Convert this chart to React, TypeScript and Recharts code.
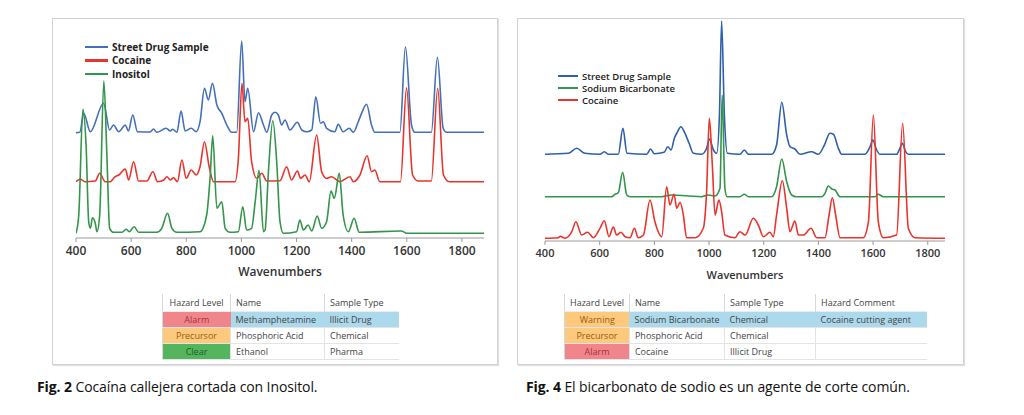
import React from 'react';
import { LineChart, Line, XAxis, YAxis, Legend, Label } from 'recharts';

type Pt = [number, number];

// ---------- Fig. 2 (left) ----------
const fig2Ticks = [400, 600, 800, 1000, 1200, 1400, 1600, 1800];
const fig2Street: Pt[] = [[400,105.3],[414,105.8],[428,124.7],[452,106.3],[500,134.7],[522,108],[536,113],[555,106.3],[579,113],[590,107],[606,123],[623,106.3],[669,106],[681,109],[693,105.7],[727,109.7],[742,107],[751,108.7],[766,105.7],[781,127],[796,107],[818,109.7],[836,106.3],[850,116.3],[866,149.7],[880,138],[895,154.7],[911,133],[929,124.7],[947,113],[965,105.7],[983,105.7],[1001,197],[1013,136.3],[1023,149.7],[1044,106.3],[1062,125.3],[1080,113],[1092,105.7],[1110,123],[1122,125.7],[1134,123],[1146,113],[1158,118],[1176,108],[1203,115.7],[1219,108],[1237,106.3],[1255,108],[1270,141.3],[1287,114.7],[1297,116.3],[1309,109.7],[1339,106.3],[1351,113.7],[1369,106.3],[1391,109.7],[1406,105.7],[1424,116.3],[1436,124.7],[1454,133.7],[1472,113],[1484,105.7],[1575,105.7],[1595,191.3],[1617,113],[1629,105.7],[1689,105.7],[1711,180.7],[1732,109.7],[1744,105.7],[1880,105.7]];
const fig2Cocaine: Pt[] = [[400,56.3],[416,58.7],[432,56.3],[470,57],[486,64.7],[506,56.3],[524,56.3],[542,61.3],[555,63],[579,69],[591,58],[609,76.3],[627,57],[657,57],[679,66.3],[696,56.3],[718,58],[730,61.3],[742,58],[754,60.3],[768,56.3],[784,78],[800,59.7],[818,68],[836,63],[850,71.3],[866,96.3],[883,71.3],[899,56.3],[977,56.3],[989,79.7],[1002,154.7],[1013,116.3],[1023,119.7],[1037,76.3],[1056,59.7],[1074,64.7],[1092,57],[1140,57.3],[1164,71.3],[1182,58],[1203,67],[1215,59.7],[1231,63],[1246,56.3],[1273,103],[1291,66.3],[1309,59.7],[1327,61.3],[1357,56.3],[1394,61.3],[1406,56.3],[1430,63],[1456,82.3],[1472,66.3],[1484,68],[1502,56.3],[1577,56.3],[1599,150.3],[1621,63],[1641,57],[1689,57],[1712,149.7],[1733,63],[1754,56.3],[1880,56.3]];
const fig2Inositol: Pt[] = [[400,4.7],[410,23],[425,128.7],[437,89.7],[446,16.3],[452,9.7],[460,20.3],[470,14.7],[476,6.3],[486,23],[501,157],[512,83],[522,9.7],[536,5.7],[567,5.7],[582,8.7],[593,6.3],[611,11.3],[627,5.7],[693,5.7],[711,9.7],[732,24.7],[748,9.7],[766,5.7],[850,6.3],[874,23],[887,63],[896,102.3],[911,29.7],[929,36.3],[941,9.7],[959,5.7],[989,6.3],[1005,31.3],[1019,8],[1037,9.7],[1050,36.3],[1064,67.7],[1080,6.3],[1086,8],[1098,66.3],[1114,117.3],[1128,76.3],[1140,16.3],[1152,4.7],[1200,6.3],[1212,18],[1225,8],[1242,13],[1255,7],[1275,22],[1291,9.7],[1309,16.3],[1325,47],[1337,39.7],[1355,64.7],[1369,23],[1388,6.3],[1409,19.7],[1427,5.7],[1580,7],[1600,4.7],[1880,4.7]];
const fig2Headers = ['Hazard Level', 'Name', 'Sample Type'];
const fig2Rows = [
  ['Alarm', 'Methamphetamine', 'Illicit Drug'],
  ['Precursor', 'Phosphoric Acid', 'Chemical'],
  ['Clear', 'Ethanol', 'Pharma'],
];
const fig2Caption = ['Fig. 2', ' Cocaína callejera cortada con Inositol.'];

// ---------- Fig. 4 (right) ----------
const fig4Ticks = [400, 600, 800, 1000, 1200, 1400, 1600, 1800];
const fig4Street: Pt[] = [[400,86.7],[485,87.7],[516,92.7],[546,87.7],[601,86.7],[617,89.3],[632,86.7],[668,86.7],[685,112.7],[700,87.7],[772,86.7],[786,92],[800,87.3],[836,88.7],[849,94.3],[861,91],[873,102.7],[885,109.3],[897,114.3],[912,107.7],[927,97.7],[943,87.7],[973,86.7],[991,92.7],[1001,102],[1016,91],[1028,87.7],[1038,126],[1046,220],[1056,126],[1067,87.7],[1113,86.7],[1129,91],[1144,86.7],[1229,86.7],[1247,96],[1266,138.7],[1284,106],[1296,94.3],[1314,92],[1333,86.7],[1375,89.3],[1400,86.7],[1422,96],[1442,107.7],[1455,106.7],[1473,92.7],[1485,86.7],[1570,86.7],[1589,94.3],[1599,101],[1613,91],[1626,86.7],[1686,86.7],[1698,92.7],[1707,97.7],[1719,89.3],[1729,86.7],[1863,86.7]];
const fig4Bicarb: Pt[] = [[400,44.3],[644,44.3],[656,46.7],[668,48.3],[684,68.7],[699,46],[711,44.3],[827,44.3],[863,46],[924,45],[973,44.3],[997,46],[1022,45],[1040,52.7],[1048,146],[1058,52.7],[1066,44.3],[1113,44.3],[1129,46.7],[1144,44.3],[1229,44.3],[1247,54.3],[1266,82],[1284,59.3],[1302,46],[1320,44.3],[1412,44.3],[1424,47.7],[1436,55],[1449,52],[1461,51],[1479,44.3],[1607,44.3],[1619,46.7],[1637,44.3],[1863,44.3]];
const fig4Cocaine: Pt[] = [[400,2.7],[449,3.3],[455,4.7],[473,2.7],[498,9.3],[513,19.3],[534,6],[556,8.7],[577,3.3],[601,12.7],[617,20.3],[634,4.3],[650,14],[662,6],[678,8.7],[693,4.3],[711,3.3],[727,12.7],[741,3.3],[760,6],[784,41],[802,19.3],[827,4.3],[845,54.3],[857,36],[872,46.7],[882,32.7],[894,38.7],[906,26],[918,3.3],[949,3.3],[979,12.7],[991,49.3],[1001,122.7],[1012,76],[1022,26],[1036,41],[1046,29.3],[1058,6],[1095,3.3],[1113,9.3],[1132,6],[1162,22.7],[1180,16],[1199,4.3],[1223,8.7],[1235,4.3],[1247,26],[1268,60.3],[1284,32.7],[1296,9.3],[1314,20],[1327,6],[1345,6],[1373,12.7],[1394,3.3],[1424,3.3],[1439,26],[1451,43.3],[1463,26],[1479,3.3],[1564,3.3],[1583,19.3],[1601,126],[1619,19.3],[1637,3.3],[1686,6],[1708,117.7],[1729,12.7],[1753,3.3],[1863,2.7]];
const fig4Headers = ['Hazard Level', 'Name', 'Sample Type', 'Hazard Comment'];
const fig4Rows = [
  ['Warning', 'Sodium Bicarbonate', 'Chemical', 'Cocaine cutting agent'],
  ['Precursor', 'Phosphoric Acid', 'Chemical', ''],
  ['Alarm', 'Cocaine', 'Illicit Drug', ''],
];
const fig4Caption = ['Fig. 4', ' El bicarbonato de sodio es un agente de corte común.'];

const BLUE = '#4470b8';
const BLUE2 = '#2f60aa';
const RED = '#e8342c';
const GREEN = '#33944a';

const hazardStyle: Record<string, { bg: string; fg: string }> = {
  Alarm: { bg: '#f0868c', fg: '#a8323c' },
  Precursor: { bg: '#fdc97c', fg: '#9a5a12' },
  Warning: { bg: '#fdc97c', fg: '#9a5a12' },
  Clear: { bg: '#55b45e', fg: '#1d5e2a' },
};

interface SeriesDef { name: string; color: string; points: Pt[] }

const toData = (pts: Pt[]) => pts.map(([x, y]) => ({ x, y }));

const FONT = '"Open Sans", sans-serif';

function Spectrum(props: {
  left: number; top: number; width: number; height: number;
  margin: { top: number; right: number; bottom: number; left: number };
  xMax: number; yMax: number; ticks: number[]; series: SeriesDef[];
  fontSize: number; legend: { left: number; top: number; row: number; sw: number; gap: number; fontSize: number; weight: number };
}) {
  const { series, legend } = props;
  const legendContent = () => (
    <div style={{ fontFamily: FONT }}>
      {series.map((s) => (
        <div key={s.name} style={{ display: 'flex', alignItems: 'center', height: legend.row }}>
          <div style={{ width: legend.sw, height: 2.5, background: s.color, marginRight: legend.gap }} />
          <span style={{ fontSize: legend.fontSize, fontWeight: legend.weight, color: '#222', whiteSpace: 'nowrap' }}>{s.name}</span>
        </div>
      ))}
    </div>
  );
  return (
    <div style={{ position: 'absolute', left: props.left, top: props.top }}>
      <LineChart width={props.width} height={props.height} margin={props.margin}>
        <XAxis
          type="number"
          dataKey="x"
          domain={[400, props.xMax]}
          ticks={props.ticks}
          interval={0}
          allowDataOverflow
          height={44}
          stroke="#9a9a9a"
          tickSize={4}
          tickMargin={4}
          tick={{ fill: '#333', fontSize: props.fontSize, fontWeight: 600, fontFamily: FONT }}
        >
          <Label
            value="Wavenumbers"
            position="insideBottom"
            offset={6}
            style={{ fill: '#333', fontSize: props.fontSize, fontWeight: 600, fontFamily: FONT }}
          />
        </XAxis>
        <YAxis type="number" domain={[0, props.yMax]} hide allowDataOverflow />
        {series.map((s) => (
          <Line
            key={s.name}
            data={toData(s.points)}
            dataKey="y"
            name={s.name}
            type="monotone"
            stroke={s.color}
            strokeWidth={1.6}
            dot={false}
            activeDot={false}
            isAnimationActive={false}
          />
        ))}
        <Legend
          layout="horizontal"
          align="center"
          verticalAlign="middle"
          content={legendContent}
          wrapperStyle={{ position: 'absolute', left: legend.left, top: legend.top, width: 'auto', margin: 0 }}
        />
      </LineChart>
    </div>
  );
}

function HazardTable(props: { left: number; top: number; widths: number[]; headers: string[]; rows: string[][] }) {
  const cellBase: React.CSSProperties = {
    fontFamily: FONT, fontSize: 9, color: '#444', height: 16, padding: '0 5px',
    whiteSpace: 'nowrap', boxSizing: 'border-box',
  };
  return (
    <table
      style={{
        position: 'absolute', left: props.left, top: props.top, borderCollapse: 'collapse',
        tableLayout: 'fixed', borderLeft: '1px solid #d8d8d8',
      }}
    >
      <colgroup>
        {props.widths.map((w, i) => <col key={i} style={{ width: w }} />)}
      </colgroup>
      <thead>
        <tr>
          {props.headers.map((h, i) => (
            <th key={h} style={{ ...cellBase, fontWeight: 400, textAlign: i === 0 ? 'center' : 'left', borderLeft: i > 0 ? '1px solid #d8d8d8' : 'none', height: 17 }}>{h}</th>
          ))}
        </tr>
      </thead>
      <tbody>
        {props.rows.map((r, ri) => (
          <tr key={ri}>
            {r.map((c, ci) => {
              const hz = ci === 0 ? hazardStyle[c] : undefined;
              const hl = ri === 0 && ci > 0;
              return (
                <td
                  key={ci}
                  style={{
                    ...cellBase,
                    textAlign: ci === 0 ? 'center' : 'left',
                    background: hz ? hz.bg : hl ? '#acd9ec' : '#fff',
                    color: hz ? hz.fg : '#444',
                    borderLeft: ci > 0 && !hl ? '1px solid #e2e2e2' : 'none',
                    borderTop: '1px solid #ececec',
                    borderBottom: '1px solid #e4e4e4',
                  }}
                >
                  {c}
                </td>
              );
            })}
          </tr>
        ))}
      </tbody>
    </table>
  );
}

const panelStyle = (left: number, width: number): React.CSSProperties => ({
  position: 'absolute', left, top: 18, width, height: 347, boxSizing: 'border-box',
  border: '1px solid #d2d2d2', boxShadow: '1px 1px 1px rgba(0,0,0,0.12)', background: '#fff',
});

function Caption(props: { left: number; parts: string[] }) {
  return (
    <div style={{ position: 'absolute', left: props.left, top: 377, fontFamily: FONT, fontSize: 14, color: '#111', whiteSpace: 'nowrap', letterSpacing: -0.1 }}>
      <b>{props.parts[0]}</b>{props.parts[1]}
    </div>
  );
}

export default function App() {
  const fig2Series: SeriesDef[] = [
    { name: 'Street Drug Sample', color: BLUE, points: fig2Street },
    { name: 'Cocaine', color: RED, points: fig2Cocaine },
    { name: 'Inositol', color: GREEN, points: fig2Inositol },
  ];
  const fig4Series: SeriesDef[] = [
    { name: 'Street Drug Sample', color: BLUE2, points: fig4Street },
    { name: 'Sodium Bicarbonate', color: GREEN, points: fig4Bicarb },
    { name: 'Cocaine', color: RED, points: fig4Cocaine },
  ];
  return (
    <div style={{ position: 'absolute', left: 0, top: 0, width: 1024, height: 415, background: '#fff', overflow: 'hidden' }}>
      <div style={panelStyle(52, 446)} />
      <div style={panelStyle(517, 447)} />
      <Spectrum
        left={60} top={20} width={430} height={265}
        margin={{ top: 18, right: 6, bottom: 3, left: 16 }}
        xMax={1880} yMax={200} ticks={fig2Ticks} series={fig2Series} fontSize={12}
        legend={{ left: 25, top: 20, row: 13.5, sw: 23, gap: 4, fontSize: 10, weight: 700 }}
      />
      <Spectrum
        left={525} top={10} width={430} height={280}
        margin={{ top: 6, right: 10, bottom: 5, left: 20 }}
        xMax={1863} yMax={225} ticks={fig4Ticks} series={fig4Series} fontSize={11}
        legend={{ left: 33, top: 60, row: 12, sw: 20, gap: 4, fontSize: 9.5, weight: 600 }}
      />
      <HazardTable left={162} top={294} widths={[68, 94, 74]} headers={fig2Headers} rows={fig2Rows} />
      <HazardTable left={564} top={294} widths={[60, 92, 91, 111]} headers={fig4Headers} rows={fig4Rows} />
      <Caption left={37} parts={fig2Caption} />
      <Caption left={526} parts={fig4Caption} />
    </div>
  );
}
